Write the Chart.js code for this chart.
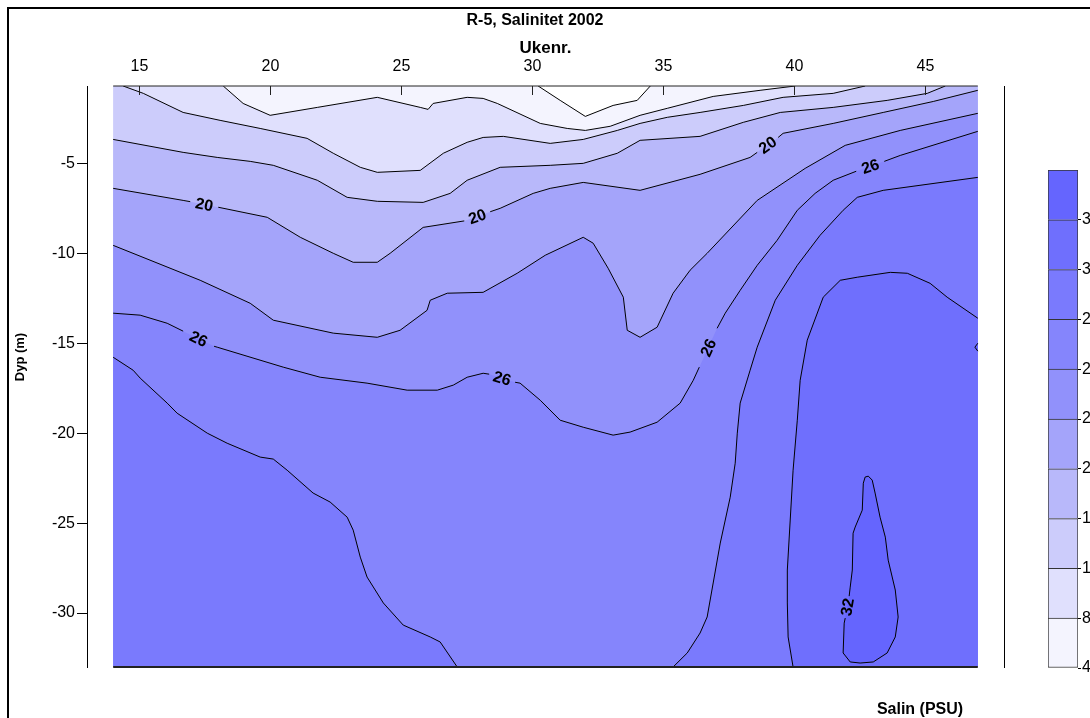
<!DOCTYPE html>
<html><head><meta charset="utf-8">
<script src="https://cdn.jsdelivr.net/npm/chart.js@4.4.1/dist/chart.umd.min.js"></script>
<style>
html,body{margin:0;padding:0;background:#fff;overflow:hidden;width:1090px;height:718px;}
#frame{position:absolute;left:7px;top:7px;width:1200px;height:800px;border-left:2px solid #000;border-top:2px solid #000;}
#main{position:absolute;left:0;top:0;}
#leg{position:absolute;left:1048px;top:150px;}
.txt{position:absolute;font-family:'Liberation Sans',Arial,sans-serif;font-weight:bold;color:#000;white-space:nowrap;}
#title{left:535px;top:20px;transform:translate(-50%,-50%);font-size:16px;}
#salin{left:920px;top:709px;transform:translate(-50%,-50%);font-size:16px;}
</style></head><body>
<div id="frame"></div>
<canvas id="main" width="1090" height="718"></canvas>
<canvas id="leg" width="80" height="540"></canvas>
<div class="txt" id="title">R-5, Salinitet 2002</div>
<div class="txt" id="salin">Salin (PSU)</div>
<script>
// ---- data ----
const weekRange = [14, 47];
const depthRange = [-33, -0.7];
const xTickValues = [15, 20, 25, 30, 35, 40, 45];
const yTickValues = [-5, -10, -15, -20, -25, -30];
const levels = [4, 8, 12, 16, 20, 23, 26, 29, 31, 32];
const bandColors = ['#f4f4fe','#e0e0fd','#ccccfb','#b8b8fa','#a4a4fa','#9191fb','#8585fc','#7a7afd','#6f6ffd','#6565fe'];

// contour lines [week, depth]
const c04 = [[30.22,-0.7],[31.06,-1.5],[32.02,-2.39],[33.08,-1.78],[34.0,-1.5],[34.5,-0.7]];
const c08 = [[18.2,-0.7],[18.96,-1.67],[19.99,-2.33],[21.79,-1.89],[24.08,-1.33],[25.72,-1.89],[26.02,-2.0],[26.21,-1.67],[27.51,-1.33],[28.12,-1.39],[28.66,-1.67],[30.3,-2.78],[31.33,-3.06],[32.02,-3.17],[32.97,-2.94],[34.11,-2.33],[35.15,-1.94],[36.9,-1.28],[38.69,-0.94],[40.03,-0.7]];
const c12 = [[14.38,-0.7],[15.15,-1.11],[16.67,-2.17],[18.08,-2.61],[19.61,-3.06],[21.4,-3.61],[22.4,-4.44],[23.43,-5.22],[24.08,-5.5],[25.72,-5.39],[26.6,-4.44],[27.51,-3.83],[28.12,-3.56],[28.89,-3.5],[30.68,-3.89],[31.94,-3.67],[33.24,-3.17],[34.11,-2.78],[35.15,-2.44],[36.4,-2.17],[38.05,-1.78],[39.57,-1.33],[41.48,-1.11],[42.7,-0.7]];
const c16 = [[14,-3.67],[16.67,-4.39],[17.97,-4.67],[19.23,-4.89],[20.11,-5.11],[21.79,-5.94],[22.93,-6.89],[24.08,-7.11],[25.83,-7.17],[26.86,-6.67],[27.51,-5.94],[28.77,-5.22],[30.68,-5.11],[31.94,-5.0],[33.24,-4.44],[34.11,-3.72],[36.4,-3.5],[38.05,-2.72],[39.46,-2.17],[41.48,-1.89],[43.54,-1.5],[45.07,-1.11],[45.76,-0.7]];
const c20 = [[14,-6.39],[16.67,-7.06],[16.94,-7.13],[18.01,-7.44],[19.88,-8.0],[21.14,-9.11],[22.4,-10.0],[23.16,-10.5],[24.08,-10.5],[24.57,-10.0],[25.83,-8.56],[27.4,-8.2],[28.39,-7.69],[28.77,-7.5],[30.03,-6.67],[30.68,-6.39],[31.94,-6.06],[34.11,-6.5],[36.4,-5.61],[38.31,-4.67],[38.58,-4.39],[39.38,-3.56],[39.57,-3.33],[41.48,-2.78],[43.39,-2.17],[45.3,-1.56],[47,-0.94]];
const c23 = [[14,-9.56],[17.32,-11.5],[19.23,-12.78],[20.11,-13.72],[22.4,-14.44],[24.08,-14.67],[24.95,-14.28],[25.98,-13.17],[26.1,-12.61],[26.75,-12.22],[28.12,-12.17],[29.42,-11.11],[30.49,-10.11],[31.94,-9.11],[32.32,-9.44],[32.89,-10.83],[33.47,-12.44],[33.62,-14.28],[34.11,-14.67],[34.76,-14.11],[35.37,-12.22],[36.02,-10.94],[36.67,-10.0],[38.58,-7.06],[40.41,-5.28],[41.94,-4.0],[44.04,-3.17],[47,-2.22]];
const c26 = [[14,-13.33],[15.03,-13.44],[16.06,-13.89],[16.67,-14.33],[17.85,-15.17],[17.97,-15.22],[20.49,-16.33],[21.9,-16.89],[23.69,-17.22],[25.22,-17.61],[26.37,-17.61],[26.98,-17.33],[27.51,-16.89],[28.12,-16.67],[28.35,-16.72],[29.34,-17.17],[29.53,-17.22],[30.3,-18.17],[31.06,-19.28],[31.94,-19.67],[33.08,-20.11],[33.73,-19.94],[34.76,-19.39],[35.64,-18.33],[36.14,-17.06],[36.37,-16.33],[37.05,-14.17],[37.36,-13.33],[37.93,-12.06],[38.58,-10.67],[39.34,-9.28],[40.11,-7.61],[40.79,-6.67],[41.48,-5.94],[42.36,-5.44],[43.43,-4.89],[44.04,-4.56],[47,-3.22]];
const c29a = [[14,-15.78],[14.76,-16.5],[15.03,-16.94],[16.06,-18.33],[16.44,-18.89],[17.59,-20.0],[18.35,-20.56],[19.61,-21.33],[20.11,-21.44],[20.64,-22.06],[21.63,-23.33],[22.28,-23.83],[22.93,-24.67],[23.16,-25.39],[23.43,-26.89],[23.69,-28.0],[24.31,-29.44],[25.07,-30.67],[26.1,-31.33],[26.48,-31.61],[27.13,-33]];
const c29b = [[35.37,-33],[35.91,-32.22],[36.4,-31.11],[36.67,-30.22],[36.9,-28.33],[37.17,-26.11],[37.55,-23.56],[37.74,-21.67],[37.82,-20.0],[37.93,-18.33],[38.31,-16.5],[38.58,-15.22],[39.27,-12.61],[40.11,-10.67],[40.98,-9.0],[41.86,-7.61],[42.4,-6.89],[43.39,-6.5],[47,-5.78]];
const c31 = [[39.95,-33],[39.76,-31.33],[39.73,-29.44],[39.73,-27.61],[39.84,-24.83],[39.95,-22.06],[40.11,-19.28],[40.22,-17.06],[40.49,-14.83],[41.1,-12.44],[41.75,-11.5],[42.4,-11.33],[43.66,-11.06],[44.31,-11.11],[45.18,-11.67],[45.83,-12.44],[47,-13.61]];
const c32a = [[47,-15.0],[46.89,-15.22],[47,-15.44]];
const c32b = [[42.7,-22.44],[42.63,-22.78],[42.59,-24.28],[42.32,-25.22],[42.24,-25.56],[42.21,-27.61],[42.13,-28.56],[42.09,-29.06],[41.94,-30.28],[41.9,-30.56],[41.86,-32.22],[42.13,-32.72],[42.51,-32.78],[43.01,-32.72],[43.54,-32.22],[43.85,-31.33],[43.96,-30.22],[43.85,-28.72],[43.58,-27.06],[43.47,-25.78],[43.27,-24.67],[43.08,-23.33],[42.97,-22.61],[42.82,-22.39],[42.7,-22.44]];

// label gaps: index of the contour point where a label segment starts
const labelGaps20 = [2, 11, 20];
const labelGaps26 = [3, 14, 25, 34];
const labelGaps32 = [7];

// ---- build ----
const FONT = "'Liberation Sans', Arial, sans-serif";
Chart.defaults.font.family = FONT;
const [W0, W1] = weekRange, [DB, DT] = depthRange;
const P = a => a.map(p => ({x: p[0], y: p[1]}));
const topToTop = c => [[W0,DB],[W0,DT], ...c, [W1,DT],[W1,DB]];
const leftToTop = c => [[W0,DB], ...c, [W1,DT],[W1,DB]];
const leftToRight = c => [[W0,DB], ...c, [W1,DB]];
const leftToBottom = c => [[W0,DB], ...c];
const bottomToRight = c => [...c, [W1,DB]];
const closedRegion = c => {
  let pts = c.slice();
  const f = pts[0], l = pts[pts.length-1];
  if (f[0] === l[0] && f[1] === l[1]) pts.pop();
  let iMin = 0, iMax = 0;
  pts.forEach((p,i) => { if (p[0] < pts[iMin][0]) iMin = i; if (p[0] > pts[iMax][0]) iMax = i; });
  const rot = pts.slice(iMin).concat(pts.slice(0, iMin));
  return rot.concat([rot[0], pts[iMax]]);
};

const regions = [
  [topToTop(c04), 0], [topToTop(c08), 1], [topToTop(c12), 2], [leftToTop(c16), 3],
  [leftToRight(c20), 4], [leftToRight(c23), 5], [leftToRight(c26), 6],
  [leftToBottom(c29a), 7], [bottomToRight(c29b), 7], [bottomToRight(c31), 8],
  [closedRegion(c32a), 9], [closedRegion(c32b), 9]
];

const datasets = [];
regions.forEach(([poly, band], i) => {
  datasets.push({data: P(poly), fill: 'shape', backgroundColor: bandColors[band],
    borderColor: 'rgba(0,0,0,0)', borderWidth: 0, pointRadius: 0, tension: 0, order: 100 - i});
});

const lines = [[c04,[]],[c08,[]],[c12,[]],[c16,[]],[c20,labelGaps20],[c23,[]],[c26,labelGaps26],
  [c29a,[]],[c29b,[]],[c31,[]],[c32a,[]],[c32b,labelGaps32]];
lines.forEach(([c, gaps]) => {
  datasets.push({data: P(c), fill: false, borderColor: '#000', borderWidth: 1, pointRadius: 0, tension: 0, order: 2,
    segment: {borderColor: s => gaps.includes(s.p0DataIndex) ? 'rgba(0,0,0,0)' : '#000'}});
});
// boundary lines of the sampled area
datasets.push({data: P([[W0,DT],[W1,DT]]), borderColor: '#222', borderWidth: 1, pointRadius: 0, fill: false, order: 1, clip: 3});
datasets.push({data: P([[W0,DB],[W1,DB]]), borderColor: '#222', borderWidth: 2, pointRadius: 0, fill: false, order: 1, clip: 3});

const contourLabels = [];
labelGaps20.forEach(i => contourLabels.push([c20, i, '20']));
labelGaps26.forEach(i => contourLabels.push([c26, i, '26']));
labelGaps32.forEach(i => contourLabels.push([c32b, i, '32']));

const decor = {
  id: 'decor',
  afterDatasetsDraw(chart) {
    const {ctx, scales: {x, y}} = chart;
    const top = y.getPixelForValue(DT);
    ctx.save();
    ctx.strokeStyle = '#222'; ctx.lineWidth = 1;
    x.ticks.forEach(t => {
      const px = Math.round(x.getPixelForValue(t.value)) + 0.5;
      ctx.beginPath(); ctx.moveTo(px, top); ctx.lineTo(px, top + 9); ctx.stroke();
    });
    ctx.fillStyle = '#000';
    ctx.font = 'bold 16px ' + FONT;
    ctx.textAlign = 'center'; ctx.textBaseline = 'middle';
    contourLabels.forEach(([c, i, txt]) => {
      const x0 = x.getPixelForValue(c[i][0]), y0 = y.getPixelForValue(c[i][1]);
      const x1 = x.getPixelForValue(c[i+1][0]), y1 = y.getPixelForValue(c[i+1][1]);
      let a = Math.atan2(y1 - y0, x1 - x0);
      if (a > Math.PI/2) a -= Math.PI;
      if (a < -Math.PI/2) a += Math.PI;
      ctx.save(); ctx.translate((x0+x1)/2, (y0+y1)/2); ctx.rotate(a);
      ctx.fillText(txt, 0, 1); ctx.restore();
    });
    // depth axis title
    ctx.font = 'bold 13px ' + FONT;
    ctx.save(); ctx.translate(20, 357); ctx.rotate(-Math.PI/2);
    ctx.fillText('Dyp (m)', 0, 0); ctx.restore();
    ctx.restore();
  }
};

new Chart(document.getElementById('main'), {
  type: 'line',
  data: {datasets},
  options: {
    responsive: false, animation: false, events: [],
    layout: {padding: {left: 0, right: 0, top: 0, bottom: 51}},
    plugins: {legend: {display: false}, tooltip: {enabled: false}, title: {display: false}},
    scales: {
      x: {type: 'linear', position: 'top', min: 13, max: 48,
        afterBuildTicks: s => { s.ticks = xTickValues.map(v => ({value: v})); },
        afterFit: s => { s.height = 86; },
        grid: {display: false, drawTicks: false}, border: {display: false},
        ticks: {color: '#000', font: {size: 16}, padding: 10, maxRotation: 0, autoSkip: false},
        title: {display: true, text: 'Ukenr.', color: '#000', font: {size: 17, weight: 'bold'}, padding: {top: 38, bottom: 0}}},
      y: {type: 'linear', position: 'left', min: DB, max: DT,
        afterBuildTicks: s => { s.ticks = yTickValues.map(v => ({value: v})); },
        afterFit: s => { s.width = 87; },
        grid: {drawOnChartArea: false, drawTicks: true, tickLength: 10, color: '#000', tickColor: '#000'},
        border: {display: true, color: '#000', width: 1},
        ticks: {color: '#000', font: {size: 16}, padding: 2, autoSkip: false}},
      y2: {type: 'linear', position: 'right', min: DB, max: DT,
        afterFit: s => { s.width = 86; },
        grid: {display: false, drawTicks: false}, border: {display: true, color: '#000', width: 1},
        ticks: {display: false}}
    }
  },
  plugins: [decor]
});

// colour scale
new Chart(document.getElementById('leg'), {
  type: 'bar',
  data: {labels: [''], datasets: bandColors.map((c, i) => ({data: [1], backgroundColor: c, borderColor: '#333',
    borderWidth: i === 0 ? 1 : {top: 1, left: 1, right: 1, bottom: 0}, borderSkipped: false,
    barPercentage: 1, categoryPercentage: 1}))},
  options: {
    responsive: false, animation: false, events: [],
    layout: {padding: {top: 20, bottom: 22, left: 0, right: 0}},
    plugins: {legend: {display: false}, tooltip: {enabled: false}},
    scales: {
      x: {stacked: true, display: false},
      y: {stacked: true, position: 'right', min: 0, max: 10,
        afterBuildTicks: s => { s.ticks = levels.map((v, i) => ({value: i})); },
        afterFit: s => { s.width = 50; },
        grid: {drawOnChartArea: false, drawTicks: true, tickLength: 3, color: '#000'},
        border: {display: false},
        ticks: {color: '#000', padding: 1, font: {size: 16}, autoSkip: false, callback: v => String(levels[v])}}
    }
  }
});
</script>
</body></html>
